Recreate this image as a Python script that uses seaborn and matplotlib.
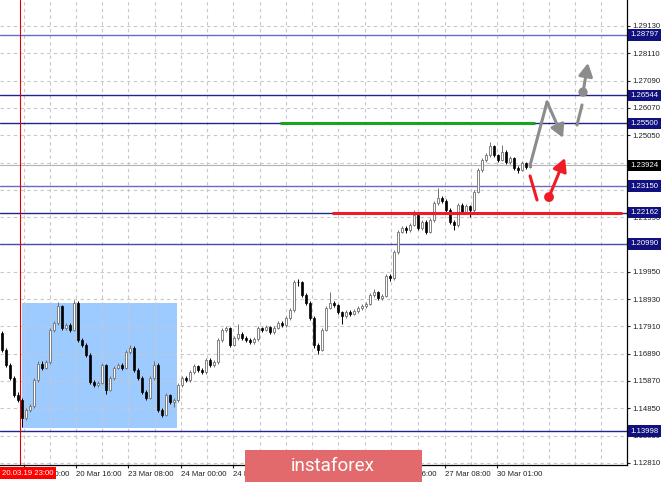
import numpy as np
import pandas as pd
import seaborn as sns
import matplotlib.pyplot as plt
import matplotlib.transforms as mtransforms
from matplotlib.patches import Rectangle

# candle data (EURUSD-like hourly bars)
first_open = 1.1766
closes = [1.1703, 1.1647, 1.1598, 1.1535, 1.1516, 1.1449, 1.1479, 1.1494, 1.1591, 1.1651,
          1.1636, 1.1658, 1.1778, 1.1804, 1.1867, 1.1785, 1.1796, 1.1778, 1.1878, 1.1740,
          1.1722, 1.1684, 1.1583, 1.1572, 1.1580, 1.1647, 1.1553, 1.1598, 1.1636, 1.1647,
          1.1636, 1.1695, 1.1710, 1.1628, 1.1598, 1.1546, 1.1524, 1.1598, 1.1647, 1.1479,
          1.1460, 1.1535, 1.1509, 1.1516, 1.1572, 1.1598, 1.1591, 1.1621, 1.1643, 1.1628,
          1.1621, 1.1666, 1.1647, 1.1658, 1.1740, 1.1778, 1.1785, 1.1722, 1.1748, 1.1763,
          1.1748, 1.1740, 1.1733, 1.1744, 1.1785, 1.1778, 1.1789, 1.1770, 1.1785, 1.1804,
          1.1796, 1.1822, 1.1852, 1.1957, 1.1955, 1.1908, 1.1878, 1.1822, 1.1722, 1.1703,
          1.1778, 1.1860, 1.1878, 1.1871, 1.1845, 1.1830, 1.1845, 1.1837, 1.1849, 1.1860,
          1.1867, 1.1875, 1.1908, 1.1920, 1.1897, 1.1905, 1.1979, 1.1972, 1.2069, 1.2144,
          1.2159, 1.2151, 1.2170, 1.2207, 1.2159, 1.2181, 1.2144, 1.2188, 1.2252, 1.2271,
          1.2259, 1.2226, 1.2181, 1.2170, 1.2244, 1.2218, 1.2241, 1.2226, 1.2293, 1.2375,
          1.2413, 1.2431, 1.2465, 1.2431, 1.2413, 1.2442, 1.2405, 1.2420, 1.2383, 1.2375,
          1.2401, 1.2386, 1.2392]
highs = [1.1775, 1.1710, 1.1655, 1.1604, 1.1545, 1.1522, 1.1488, 1.1502, 1.1598, 1.1660,
         1.1662, 1.1667, 1.1786, 1.1812, 1.1882, 1.1872, 1.1805, 1.1803, 1.1889, 1.1884,
         1.1748, 1.1728, 1.1690, 1.1592, 1.1588, 1.1655, 1.1652, 1.1605, 1.1643, 1.1655,
         1.1654, 1.1702, 1.1722, 1.1716, 1.1635, 1.1604, 1.1552, 1.1606, 1.1660, 1.1653,
         1.1486, 1.1542, 1.1540, 1.1524, 1.1580, 1.1606, 1.1604, 1.1628, 1.1650, 1.1648,
         1.1634, 1.1674, 1.1672, 1.1665, 1.1746, 1.1786, 1.1792, 1.1790, 1.1755, 1.1800,
         1.1770, 1.1755, 1.1746, 1.1750, 1.1792, 1.1790, 1.1796, 1.1794, 1.1792, 1.1810,
         1.1810, 1.1828, 1.1860, 1.1964, 1.1968, 1.1960, 1.1914, 1.1884, 1.1828, 1.1730,
         1.1785, 1.1866, 1.1920, 1.1886, 1.1876, 1.1850, 1.1852, 1.1852, 1.1856, 1.1866,
         1.1874, 1.1882, 1.1915, 1.1930, 1.1925, 1.1912, 1.1986, 1.1988, 1.2076, 1.2152,
         1.2166, 1.2165, 1.2178, 1.2226, 1.2212, 1.2190, 1.2188, 1.2195, 1.2260, 1.2308,
         1.2278, 1.2265, 1.2232, 1.2188, 1.2252, 1.2250, 1.2248, 1.2246, 1.2300, 1.2382,
         1.2420, 1.2438, 1.2480, 1.2470, 1.2436, 1.2470, 1.2448, 1.2428, 1.2425, 1.2390,
         1.2408, 1.2406, 1.2400]
lows = [1.1695, 1.1640, 1.1590, 1.1528, 1.1508, 1.1415, 1.1440, 1.1470, 1.1488, 1.1585,
        1.1628, 1.1630, 1.1650, 1.1770, 1.1798, 1.1778, 1.1776, 1.1770, 1.1772, 1.1733,
        1.1714, 1.1676, 1.1576, 1.1565, 1.1563, 1.1575, 1.1540, 1.1548, 1.1592, 1.1630,
        1.1628, 1.1630, 1.1688, 1.1620, 1.1590, 1.1538, 1.1516, 1.1518, 1.1592, 1.1470,
        1.1452, 1.1455, 1.1500, 1.1490, 1.1510, 1.1566, 1.1584, 1.1585, 1.1615, 1.1620,
        1.1612, 1.1615, 1.1640, 1.1640, 1.1652, 1.1734, 1.1770, 1.1714, 1.1716, 1.1740,
        1.1740, 1.1733, 1.1724, 1.1726, 1.1738, 1.1770, 1.1772, 1.1762, 1.1764, 1.1780,
        1.1790, 1.1790, 1.1816, 1.1846, 1.1940, 1.1900, 1.1870, 1.1814, 1.1710, 1.1688,
        1.1698, 1.1772, 1.1855, 1.1864, 1.1838, 1.1800, 1.1824, 1.1830, 1.1832, 1.1842,
        1.1852, 1.1860, 1.1870, 1.1900, 1.1890, 1.1888, 1.1900, 1.1960, 1.1965, 1.2062,
        1.2138, 1.2140, 1.2144, 1.2165, 1.2150, 1.2152, 1.2136, 1.2138, 1.2182, 1.2245,
        1.2252, 1.2218, 1.2172, 1.2150, 1.2164, 1.2210, 1.2212, 1.2200, 1.2220, 1.2288,
        1.2368, 1.2406, 1.2425, 1.2424, 1.2405, 1.2408, 1.2398, 1.2398, 1.2375, 1.2365,
        1.2370, 1.2378, 1.2382]

# time axis labels (bar index, text)
tick_bars = [5.5, 18.5, 31.5, 44.75, 57.75, 71, 84, 97.25, 110.75, 123.75]
tick_labels = ["20 Mar 00:00", "20 Mar 16:00", "23 Mar 08:00", "24 Mar 00:00", "24 Mar 16:00",
               "25 Mar 08:00", "26 Mar 00:00", "26 Mar 16:00", "27 Mar 08:00", "30 Mar 01:00"]
extra_grid_bars = [130.25, 136.75, 143.25, 149.75]

# price scale
price_ticks = [1.12810, 1.13830, 1.14850, 1.15870, 1.16890, 1.17910, 1.18930, 1.19950,
               1.20970, 1.21990, 1.23010, 1.24030, 1.25050, 1.26070, 1.27090, 1.28110, 1.29130]

# levels drawn on the chart
levels = [1.28797, 1.26544, 1.25500, 1.23150, 1.22162, 1.20990, 1.13998]
level_colors = ["#6a6ac4", "#24248f", "#24248f", "#6a6ac4", "#24248f", "#4b4bb0", "#24248f"]
current_price = 1.23924

# marked zones / lines
box_bars = [5, 43.75]
box_prices = [1.1412, 1.1878]
green_bars = [69.5, 133.25]
green_price = 1.25500
red_bars = [82.5, 155]
red_price = 1.22162
cursor_bar = 4.5

# scenario arrows (bar index, price)
grey_path_x = [132, 136.25]
grey_path_y = [1.2392, 1.2629]
grey_head_x = [136.25, 140.25]
grey_head_y = [1.2629, 1.2495]
grey_dash_x = [143.75, 145.0]
grey_dash_y = [1.2543, 1.2618]
grey_dot = [145.25, 1.2666]
grey_tip = [146.5, 1.2775]
red_dash_x = [132, 133.75]
red_dash_y = [1.2353, 1.2263]
red_dot = [136.75, 1.2274]
red_tip = [140.75, 1.2420]

sns.set_style("white")
plt.rcParams['font.family'] = ['Liberation Sans', 'DejaVu Sans']

df = pd.DataFrame({
    "bar": np.arange(len(closes)),
    "open": [first_open] + closes[:-1],
    "close": closes,
    "high": highs,
    "low": lows,
})
bull = df["close"] >= df["open"]

fig = plt.figure(figsize=(6.65, 4.82), dpi=100)
ax = fig.add_axes([0, 0.0353, 0.9429, 0.9647])

# blue zone
ax.add_patch(Rectangle((box_bars[0], box_prices[0]), box_bars[1] - box_bars[0],
                       box_prices[1] - box_prices[0], facecolor="#9dcbff", edgecolor="none", zorder=0.2))

# grid
grid_bars = sorted(tick_bars + [(a + b) / 2 for a, b in zip(tick_bars[:-1], tick_bars[1:])]
                   + [tick_bars[0] - 6.5] + extra_grid_bars)
for gx in grid_bars:
    ax.axvline(gx, color="#c8c8c8", lw=0.8, ls=(0, (3, 3)), zorder=0.5)
for gy in price_ticks:
    ax.axhline(gy, color="#c8c8c8", lw=0.8, ls=(0, (3, 3)), zorder=0.5)

# levels
for lv, lc in zip(levels, level_colors):
    ax.axhline(lv, color=lc, lw=1.0, zorder=1)
ax.axhline(current_price, color="#b4b4b4", lw=0.8, zorder=1)
ax.axvline(cursor_bar, color="#e00000", lw=0.8, zorder=1)

# candles
ax.vlines(df["bar"], df["low"], df["high"], colors=np.where(bull, "#707070", "black"), lw=0.7, zorder=2)
b = df[bull]
s = df[~bull]
ax.bar(b["bar"], (b["close"] - b["open"]).clip(lower=0.0002), bottom=b["open"], width=0.62,
       facecolor="white", edgecolor="#707070", linewidth=0.6, zorder=3)
ax.bar(s["bar"], (s["open"] - s["close"]).clip(lower=0.0002), bottom=s["close"], width=0.62,
       facecolor="black", edgecolor="black", linewidth=0.5, zorder=3)

# green and red lines
ax.hlines(green_price, green_bars[0], green_bars[1], color="#1ea31e", lw=2.2, zorder=4)
ax.hlines(red_price, red_bars[0], red_bars[1], color="#ee1c24", lw=2.2, zorder=4)

# scenario arrows
grey = "#8c8c8c"
red = "#ee1c24"
sns.lineplot(x=grey_path_x, y=grey_path_y, sort=False, color=grey, lw=2.2, ax=ax, zorder=5)
sns.lineplot(x=grey_dash_x, y=grey_dash_y, sort=False, color=grey, lw=2.2, ax=ax, zorder=5)
sns.lineplot(x=red_dash_x, y=red_dash_y, sort=False, color=red, lw=2.2, ax=ax, zorder=5)
sns.scatterplot(x=[grey_dot[0]], y=[grey_dot[1]], color=grey, s=45, edgecolor="none", ax=ax, zorder=6)
sns.scatterplot(x=[red_dot[0]], y=[red_dot[1]], color=red, s=50, edgecolor="none", ax=ax, zorder=6)
arrow = "-|>,head_length=0.55,head_width=0.3"
ax.annotate("", xy=(grey_head_x[1], grey_head_y[1]), xytext=(grey_head_x[0], grey_head_y[0]),
            arrowprops=dict(arrowstyle=arrow, color=grey, lw=2.2, shrinkA=0, shrinkB=0,
                            mutation_scale=14), zorder=5)
ax.annotate("", xy=tuple(grey_tip), xytext=tuple(grey_dot),
            arrowprops=dict(arrowstyle=arrow, color=grey, lw=2.2, shrinkA=0, shrinkB=0,
                            mutation_scale=14), zorder=5)
ax.annotate("", xy=tuple(red_tip), xytext=tuple(red_dot),
            arrowprops=dict(arrowstyle=arrow, color=red, lw=2.2, shrinkA=0, shrinkB=0,
                            mutation_scale=14), zorder=5)

# axes
ax.set_xlim(-0.5, 156.25)
ax.set_ylim(1.12733, 1.30101)
ax.yaxis.tick_right()
ax.set_yticks(price_ticks)
ax.set_yticklabels([f"{p:.5f}" for p in price_ticks])
ax.set_xticks(tick_bars)
ax.set_xticklabels(tick_labels, ha="left")
ax.tick_params(axis="y", direction="out", length=2.5, width=0.8, pad=1.5, labelsize=5.6,
               colors="#202020", right=True, left=False)
ax.tick_params(axis="x", direction="out", length=2.5, width=0.8, pad=1.8, labelsize=5.6,
               colors="#202020", bottom=True)
for side in ["left", "top"]:
    ax.spines[side].set_visible(False)
for side in ["right", "bottom"]:
    ax.spines[side].set_color("black")
    ax.spines[side].set_linewidth(0.9)
ax.set_xlabel("")
ax.set_ylabel("")

# price boxes on the right scale
trans = mtransforms.blended_transform_factory(ax.transAxes, ax.transData)
for lv in levels:
    ax.text(1.0055, lv, f"{lv:.5f}", transform=trans, ha="left", va="center", fontsize=5.6,
            color="white", clip_on=False, zorder=10,
            bbox=dict(boxstyle="square,pad=0.28", facecolor="#10107e", edgecolor="none"))
ax.text(1.0055, current_price, f"{current_price:.5f}", transform=trans, ha="left", va="center",
        fontsize=5.6, color="white", clip_on=False, zorder=10,
        bbox=dict(boxstyle="square,pad=0.28", facecolor="black", edgecolor="none"))

# cursor time label
fig.text(0.003, 0.0185, "20.03.19 23:00", fontsize=5.6, color="white", ha="left", va="center",
         bbox=dict(boxstyle="square,pad=0.3", facecolor="#ff0000", edgecolor="none"), zorder=10)

# logo
fig.add_artist(Rectangle((0.368, 0.0), 0.267, 0.066, transform=fig.transFigure,
                         facecolor="#e36a6c", edgecolor="none", zorder=8))
fig.text(0.5, 0.033, "instaforex", fontsize=13.5, color="white", ha="center", va="center",
         family=["Roboto", "DejaVu Sans"], zorder=9)

fig.savefig("out.png", dpi=100)
